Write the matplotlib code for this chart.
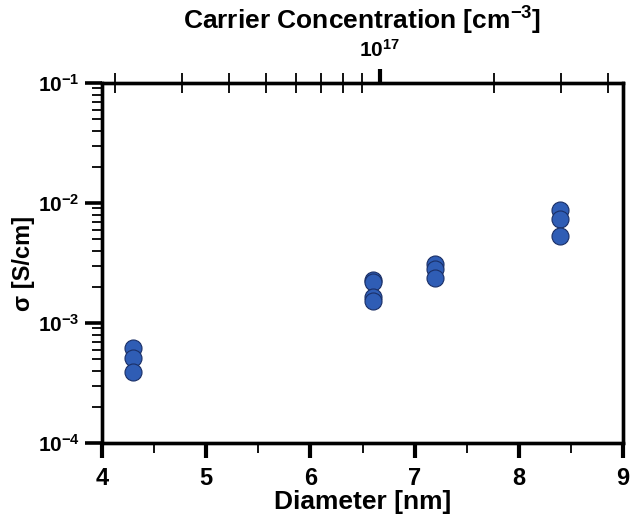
import numpy as np
import matplotlib
matplotlib.use('Agg')
import matplotlib.pyplot as plt
from matplotlib.ticker import LogLocator, FixedLocator, NullFormatter, FuncFormatter

# Data
diameter = [4.3, 4.3, 4.3,
            6.6, 6.6, 6.6, 6.6,
            7.2, 7.2, 7.2,
            8.4, 8.4, 8.4]
sigma = [6.2e-4, 5.1e-4, 3.9e-4,
         2.3e-3, 2.2e-3, 1.64e-3, 1.52e-3,
         3.1e-3, 2.8e-3, 2.37e-3,
         8.8e-3, 7.3e-3, 5.3e-3]

x_ticks = [4, 5, 6, 7, 8, 9]
carrier_lim = (1.85e16, 4.38e17)

plt.rcParams['font.family'] = 'Liberation Sans'
plt.rcParams['font.weight'] = 'bold'
plt.rcParams['mathtext.fontset'] = 'custom'
plt.rcParams['mathtext.rm'] = 'Liberation Sans:bold'
plt.rcParams['mathtext.it'] = 'Liberation Sans:bold'
plt.rcParams['mathtext.bf'] = 'Liberation Sans:bold'
plt.rcParams['mathtext.default'] = 'rm'

fig = plt.figure(figsize=(6.31, 5.16), dpi=100)
ax = fig.add_axes([102 / 631, 73 / 516, 521 / 631, 360 / 516])

ax.scatter(diameter, sigma, s=150, color='#2F5DB5', edgecolors='#1A2F66',
           linewidths=0.8, zorder=3, clip_on=False)

ax.set_yscale('log')
ax.set_ylim(1e-4, 1e-1)
ax.set_xlim(4, 9)
ax.set_xticks(x_ticks)
ax.xaxis.set_minor_locator(FixedLocator(np.arange(4.5, 9, 1.0)))
ax.yaxis.set_major_locator(LogLocator(base=10, numticks=10))
ax.yaxis.set_minor_locator(LogLocator(base=10, subs=np.arange(2, 10), numticks=10))
ax.yaxis.set_minor_formatter(NullFormatter())
ax.yaxis.set_major_formatter(FuncFormatter(lambda v, p: r'$10^{%d}$' % round(np.log10(v))))

for s in ax.spines.values():
    s.set_linewidth(2.4)

ax.tick_params(axis='x', which='major', direction='out', length=11, width=3,
               labelsize=17, pad=6, top=False)
ax.tick_params(axis='x', which='minor', direction='out', length=7, width=1.3, top=False)
ax.tick_params(axis='y', which='major', direction='out', length=12, width=2.6,
               labelsize=15, pad=4, right=False)
ax.tick_params(axis='y', which='minor', direction='out', length=7, width=1.3, right=False)

ax.set_xlabel('Diameter [nm]', fontsize=19, fontweight='bold', labelpad=0)
ax.set_ylabel('σ [S/cm]', fontsize=17, fontweight='bold', labelpad=2)

top = ax.twiny()
top.set_xscale('log')
top.set_xlim(*carrier_lim)
top.xaxis.set_major_locator(LogLocator(base=10, numticks=10))
top.xaxis.set_minor_locator(LogLocator(base=10, subs=np.arange(2, 10), numticks=10))
top.xaxis.set_minor_formatter(NullFormatter())
top.xaxis.set_major_formatter(FuncFormatter(lambda v, p: r'$10^{%d}$' % round(np.log10(v))))
top.tick_params(axis='x', which='major', direction='out', length=10, width=3,
                labelsize=15, pad=6)
top.tick_params(axis='x', which='minor', direction='inout', length=15, width=1.3)
for s in top.spines.values():
    s.set_linewidth(2.4)
top.set_xlabel('Carrier Concentration [cm$^{-3}$]', fontsize=19,
               fontweight='bold', labelpad=7)

fig.savefig('out.png', dpi=100)
